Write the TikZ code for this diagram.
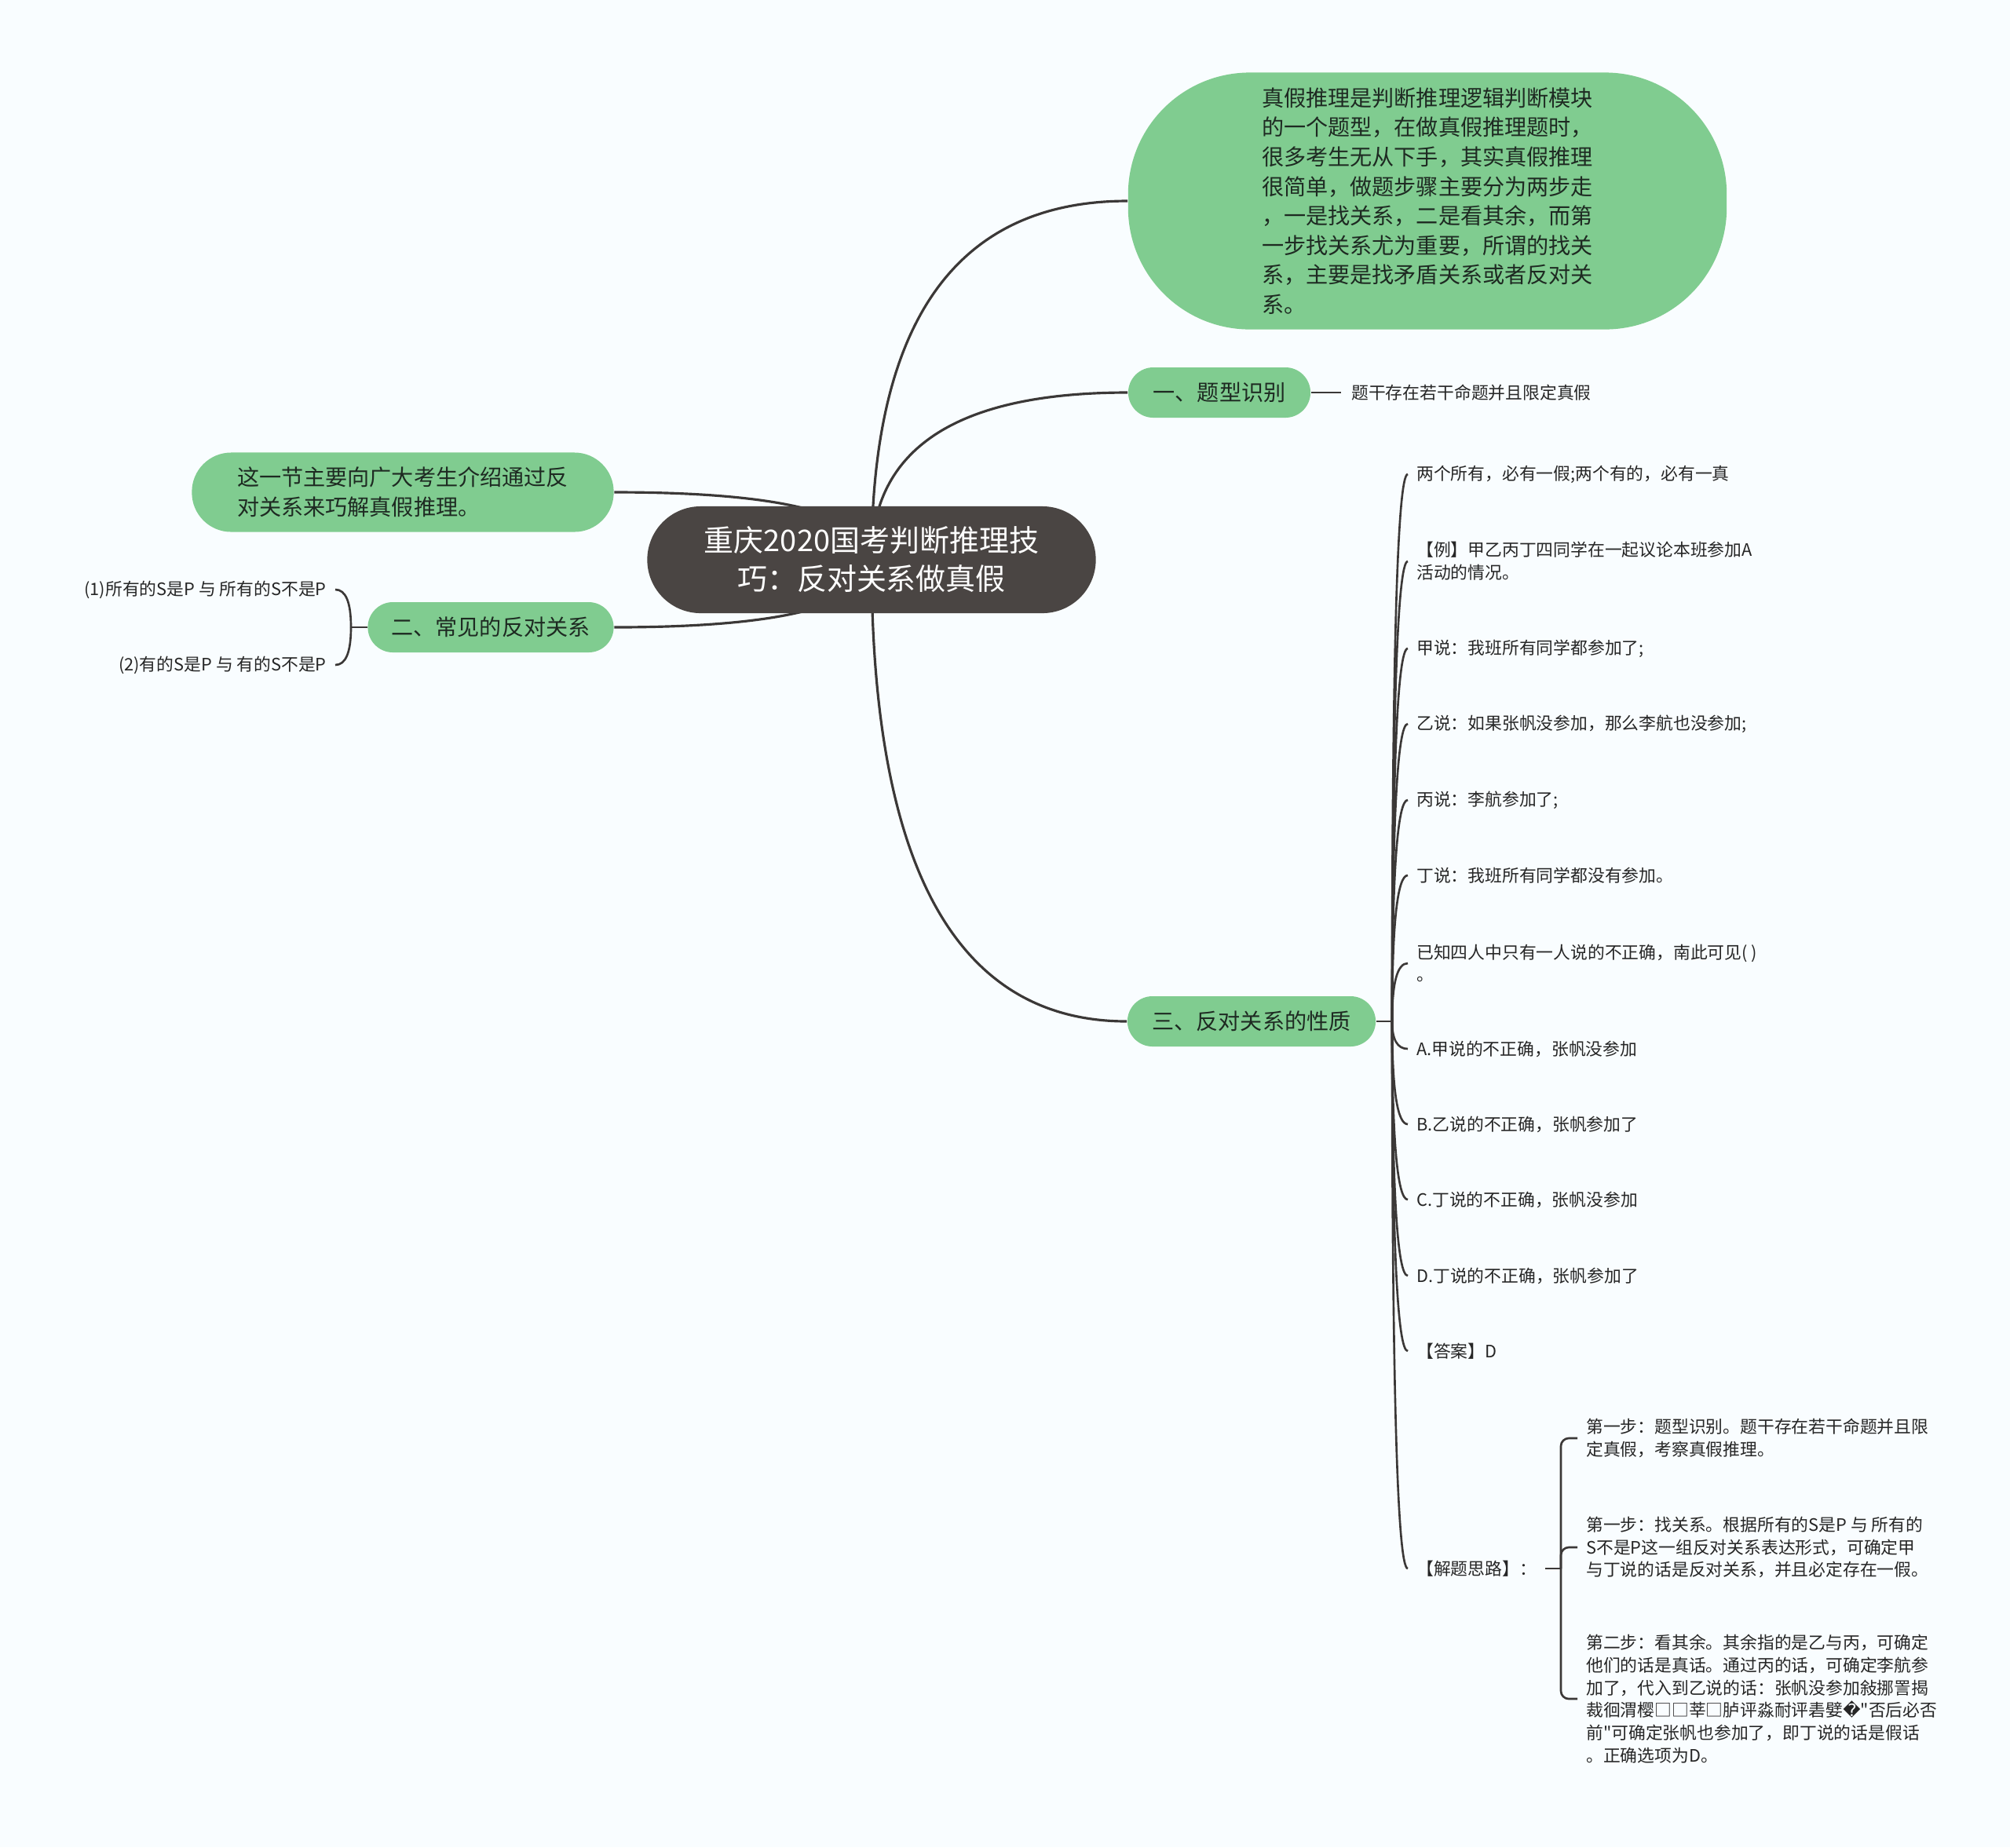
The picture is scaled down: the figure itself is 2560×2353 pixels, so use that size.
\documentclass[tikz,border=0pt]{standalone}
\usepackage{fontspec}
\setmainfont{Noto Sans CJK SC}[Ligatures=TeXOff]
\newfontfamily\fbfont{DejaVu Sans}
\usepackage{xcolor}
\usetikzlibrary{calc}

\definecolor{bgcol}{HTML}{F9FDFF}
\definecolor{leafgreen}{HTML}{80CC90}
\definecolor{rootgray}{HTML}{4A4543}
\definecolor{linegray}{HTML}{3B3837}
\definecolor{darktext}{HTML}{1E2A22}

\pgfdeclarelayer{bg}
\pgfdeclarelayer{lines}
\pgfsetlayers{bg,lines,main}

\begin{document}
\begin{tikzpicture}[
  x=0.01cm, y=-0.01cm,
  centre/.style={fill=rootgray, text=white, rounded corners=0.68cm,
    minimum width=5.71cm, minimum height=1.36cm, align=center,
    font=\fontsize{10.8}{13.9}\selectfont},
  bubble/.style={fill=leafgreen, text=darktext, align=left,
    font=\fontsize{8}{10.7}\selectfont},
  topic/.style={bubble, rounded corners=0.32cm, minimum height=0.64cm, inner xsep=0pt},
  leaf/.style={anchor=west, inner xsep=3pt, inner ysep=0pt, align=left,
    text=black!85, font=\fontsize{6.2}{8.2}\selectfont},
  link/.style={draw=linegray, line width=0.9pt},
  twig/.style={draw=linegray, line width=0.75pt},
  branch/.style={to path={.. controls ($(\tikztostart)!2/3!(\tikztostart |- \tikztotarget)$)
    and ($(\tikztotarget)!2/3!(\tikztostart |- \tikztotarget)$) .. (\tikztotarget)}},
]
  \useasboundingbox (0,0) rectangle (2560,2353);
  \begin{pgfonlayer}{bg}
    \fill[bgcol] (0,0) rectangle (2560,2353);
  \end{pgfonlayer}

  % Centre topic
  \node[centre] (root) at (1110,713) {重庆2020国考判断推理技\\巧：反对关系做真假};

  % Right branches
  \node[bubble, rounded corners=1.55cm, minimum width=7.62cm, minimum height=3.27cm]
    (intro) at (1818,256) {真假推理是判断推理逻辑判断模块\\的一个题型，在做真假推理题时，\\很多考生无从下手，其实真假推理\\很简单，做题步骤主要分为两步走\\，一是找关系，二是看其余，而第\\一步找关系尤为重要，所谓的找关\\系，主要是找矛盾关系或者反对关\\系。};
  \node[topic, minimum width=2.32cm] (kind) at (1553,500) {一、题型识别};
  \node[leaf, inner xsep=3.6pt] (kindtip) at (1708,500) {题干存在若干命题并且限定真假};
  \node[topic, minimum width=3.16cm] (prop) at (1594,1301) {三、反对关系的性质};

  % Left branches
  \node[bubble, rounded corners=0.5cm, minimum width=5.37cm, minimum height=1.01cm]
    (aim) at (513,627) {这一节主要向广大考生介绍通过反\\对关系来巧解真假推理。};
  \node[topic, minimum width=3.13cm] (usual) at (625,799) {二、常见的反对关系};
  \node[leaf, anchor=east, align=right] (pair1) at (427,751) {(1)所有的S是P 与 所有的S不是P};
  \node[leaf, anchor=east, align=right] (pair2) at (427,847) {(2)有的S是P 与 有的S不是P};
  \coordinate (uj) at (447,799);

  % Properties
  \coordinate (pj) at (1773,1301);
  \node[leaf] (p1) at (1793,604) {两个所有，必有一假;两个有的，必有一真};
  \node[leaf] (p2) at (1793,715) {【例】甲乙丙丁四同学在一起议论本班参加A\\活动的情况。};
  \node[leaf] (p3) at (1793,826) {甲说：我班所有同学都参加了;};
  \node[leaf] (p4) at (1793,922) {乙说：如果张帆没参加，那么李航也没参加;};
  \node[leaf] (p5) at (1793,1019) {丙说：李航参加了;};
  \node[leaf] (p6) at (1793,1115) {丁说：我班所有同学都没有参加。};
  \node[leaf] (p7) at (1793,1227) {已知四人中只有一人说的不正确，南此可见( )\\。};
  \node[leaf] (p8) at (1793,1336) {A.甲说的不正确，张帆没参加};
  \node[leaf] (p9) at (1793,1432) {B.乙说的不正确，张帆参加了};
  \node[leaf] (p10) at (1793,1528) {C.丁说的不正确，张帆没参加};
  \node[leaf] (p11) at (1793,1625) {D.丁说的不正确，张帆参加了};
  \node[leaf] (p12) at (1793,1721) {【答案】D};
  \node[leaf] (p13) at (1793,1998) {【解题思路】：};

  % Solution steps
  \coordinate (tj) at (1988,1998);
  \node[leaf] (s1) at (2009,1832) {第一步：题型识别。题干存在若干命题并且限\\定真假，考察真假推理。};
  \node[leaf] (s2) at (2009,1971) {第一步：找关系。根据所有的S是P 与 所有的\\S不是P这一组反对关系表达形式，可确定甲\\与丁说的话是反对关系，并且必定存在一假。};
  \node[leaf] (s3) at (2009,2164) {第二步：看其余。其余指的是乙与丙，可确定\\他们的话是真话。通过丙的话，可确定李航参\\加了，代入到乙说的话：张帆没参加敍挪詈揭\\裁徊渭樱□□莘□胪评淼耐评砉嬖{\fbfont �}"否后必否\\前"可确定张帆也参加了，即丁说的话是假话\\。正确选项为D。};

  % Connectors
  \begin{pgfonlayer}{lines}
    \draw[link] (root.center) to[branch] (intro.west);
    \draw[link] (root.center) to[branch] (kind.west);
    \draw[link] (root.center) to[branch] (prop.west);
    \draw[link] (root.center) to[branch] (aim.east);
    \draw[link] (root.center) to[branch] (usual.east);
    \draw[twig] (kind.east) -- (kindtip.west);
    \draw[twig] (usual.west) -- (uj);
    \draw[twig] (uj) to[branch] (pair1.east);
    \draw[twig] (uj) to[branch] (pair2.east);
    \draw[twig] (prop.east) -- (pj);
    \foreach \i in {1,...,13}
      \draw[twig] (pj) to[branch] (p\i.west);
    \draw[twig] (p13.east) -- (tj);
    \foreach \s in {s1,s2,s3}
      \draw[twig, rounded corners=0.1cm] (tj) |- (\s.west);
  \end{pgfonlayer}

\end{tikzpicture}
\end{document}
